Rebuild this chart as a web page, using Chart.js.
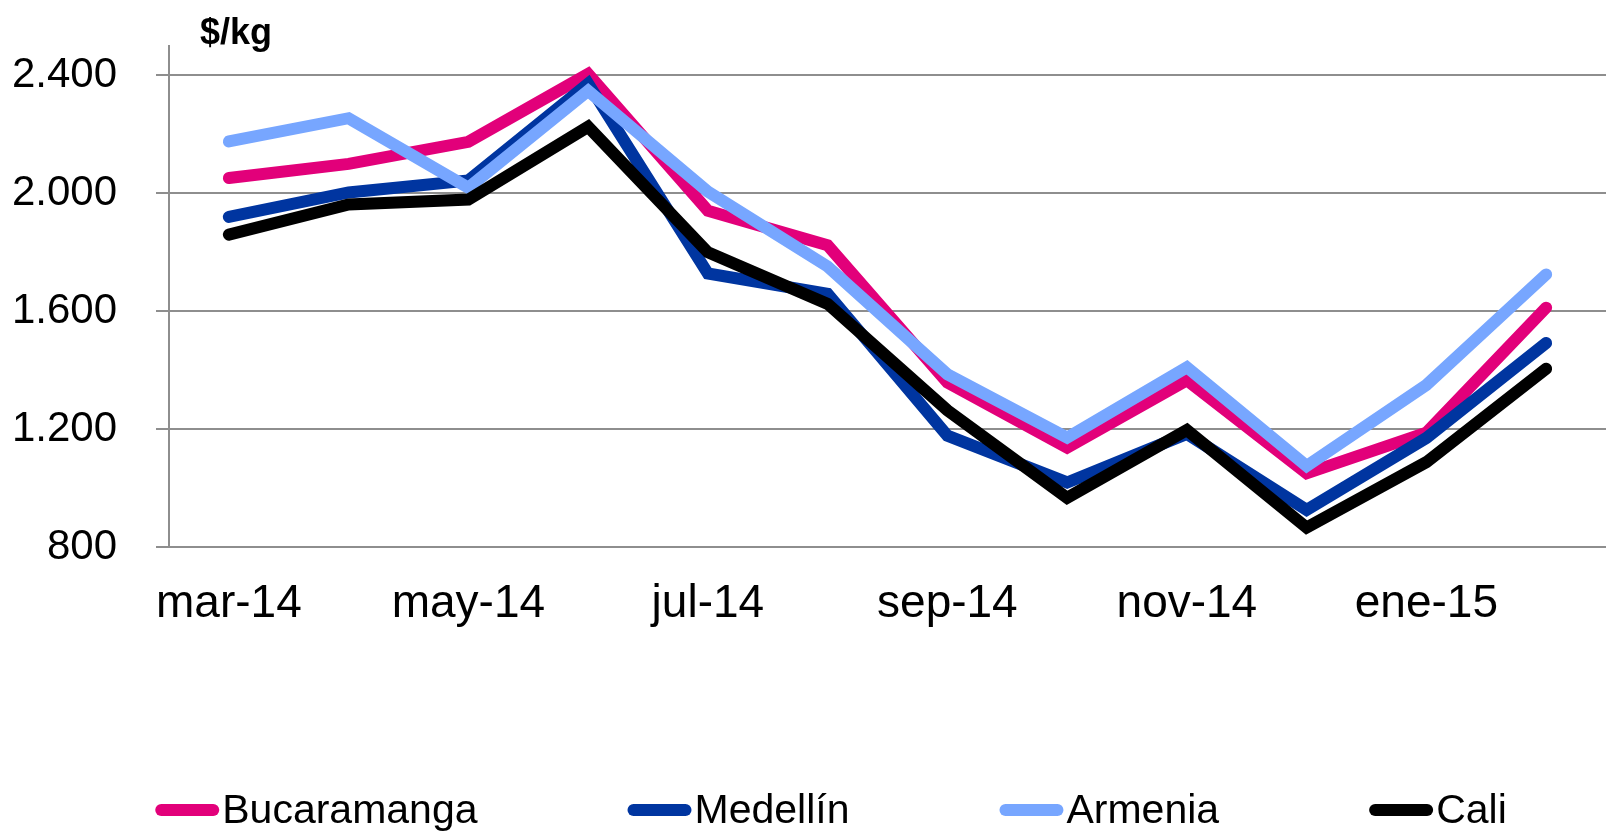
<!DOCTYPE html>
<html>
<head>
<meta charset="utf-8">
<script src="https://cdn.jsdelivr.net/npm/chart.js@4/dist/chart.umd.min.js"></script>
<style>
  body { margin: 0; background: #fff; }
  #wrap { width: 1606px; height: 831px; position: relative; }
</style>
</head>
<body>
<div id="wrap"><canvas id="canvas"></canvas></div>
<script>
var months = ['mar-14', 'abr-14', 'may-14', 'jun-14', 'jul-14', 'ago-14',
              'sep-14', 'oct-14', 'nov-14', 'dic-14', 'ene-15', 'feb-15'];

var bucaramanga = [2052, 2100, 2175, 2405, 1941, 1824, 1358, 1137, 1366, 1050, 1188, 1612];
var medellin    = [1920, 2003, 2044, 2372, 1728, 1659, 1178, 1019, 1184, 926, 1170, 1492];
var armenia     = [2176, 2255, 2019, 2348, 2006, 1752, 1386, 1171, 1410, 1075, 1350, 1725];
var cali        = [1860, 1962, 1979, 2226, 1800, 1625, 1264, 967, 1197, 866, 1088, 1405];

var yTicks = [800, 1200, 1600, 2000, 2400];

var FONT = '"Liberation Sans", Arial, sans-serif';
var GRID = '#8e8e8e';

function serie(label, data, color, order) {
    return {
        label: label,
        data: data,
        borderColor: color,
        backgroundColor: color,
        borderWidth: 12,
        borderCapStyle: 'round',
        borderJoinStyle: 'miter',
        pointRadius: 0,
        tension: 0,
        order: order
    };
}

// leyenda y unidad dibujadas a mano
var extras = {
    id: 'extras',
    afterDraw: function(chart) {
        var ctx = chart.ctx;
        ctx.save();
        ctx.fillStyle = '#000';
        ctx.font = 'bold 36px ' + FONT;
        ctx.textAlign = 'center';
        ctx.textBaseline = 'alphabetic';
        ctx.fillText('$/kg', 236, 44);

        var sets = chart.data.datasets;
        ctx.font = '41px ' + FONT;
        var lineW = 64, gapText = 3, itemGap = 150;
        var total = 0;
        sets.forEach(function(ds, i) {
            total += lineW + gapText + ctx.measureText(ds.label).width;
            if (i < sets.length - 1) total += itemGap;
        });
        var x = 831 - total / 2;
        var y = 810;
        ctx.textAlign = 'left';
        ctx.textBaseline = 'middle';
        sets.forEach(function(ds) {
            ctx.fillStyle = ds.borderColor;
            ctx.beginPath();
            ctx.roundRect(x, y - 6, lineW, 12, 6);
            ctx.fill();
            x += lineW + gapText;
            ctx.fillStyle = '#000';
            ctx.fillText(ds.label, x, y + 2);
            x += ctx.measureText(ds.label).width + itemGap;
        });
        ctx.restore();
    }
};

const ctx = document.getElementById('canvas');
const myChart = new Chart(ctx, {
    type: 'line',
    data: {
        labels: months,
        datasets: [
            serie('Bucaramanga', bucaramanga, '#e2007a', 4),
            serie('Medellín', medellin, '#0035a0', 3),
            serie('Armenia', armenia, '#77a6ff', 2),
            serie('Cali', cali, '#000000', 1)
        ]
    },
    options: {
        responsive: true,
        maintainAspectRatio: false,
        animation: false,
        layout: { padding: { top: 46, left: 0, right: 0, bottom: 0 } },
        plugins: {
            legend: { display: false },
            tooltip: { enabled: false }
        },
        scales: {
            x: {
                offset: true,
                grid: { display: false, drawTicks: false },
                border: { display: true, color: GRID, width: 2 },
                ticks: {
                    autoSkip: false,
                    maxRotation: 0,
                    padding: 30,
                    color: '#000',
                    font: { family: FONT, size: 46 },
                    callback: function(v, i) { return i % 2 === 0 ? months[i] : ''; }
                },
                afterFit: function(s) {
                    s.height = 284;
                    s.paddingLeft = 0;
                    s.paddingRight = 0;
                }
            },
            y: {
                min: 800,
                max: 2500,
                afterBuildTicks: function(s) {
                    s.ticks = yTicks.map(function(v) { return { value: v }; });
                },
                grid: { color: GRID, lineWidth: 2, tickLength: 13 },
                border: { display: true, color: GRID, width: 2 },
                ticks: {
                    padding: 39,
                    color: '#000',
                    font: { family: FONT, size: 42 },
                    callback: function(v) { return v.toLocaleString('es-CO'); }
                },
                afterFit: function(s) {
                    s.width = 169;
                    s.paddingTop = 0;
                    s.paddingBottom = 0;
                }
            }
        }
    },
    plugins: [extras]
});
</script>
</body>
</html>
